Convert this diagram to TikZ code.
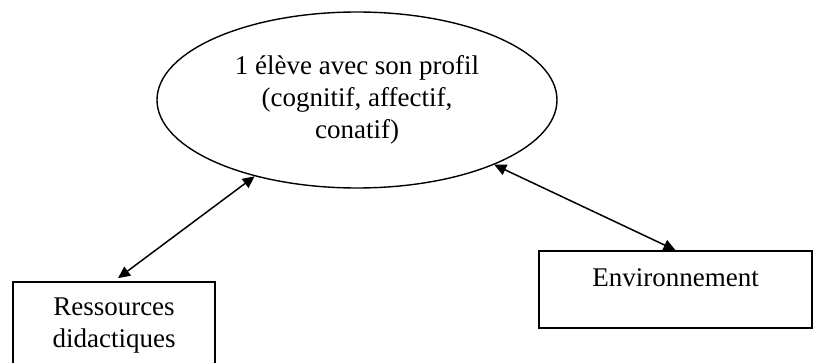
\documentclass[tikz,border=0pt]{standalone}
\usepackage{fontspec}
\setmainfont{Liberation Serif}
\usetikzlibrary{arrows.meta,shapes.geometric}

\begin{document}
\begin{tikzpicture}[x=0.5pt,y=-0.5pt,
    every node/.style={font=\fontsize{13.5}{16}\selectfont,align=center},
    cadre/.style={draw,line width=0.8pt,inner sep=0pt},
    lien/.style={{Triangle[length=6pt,width=5.5pt]}-{Triangle[length=6pt,width=5.5pt]},line width=0.75pt}]
    \useasboundingbox (0,0) rectangle (814,363);

    % l'eleve au centre
    \node[draw,ellipse,line width=0.7pt,minimum width=200pt,minimum height=88pt] (eleve) at (357,100)
        {1 élève avec son profil\\(cognitif, affectif,\\conatif)};

    % les deux cadres (celui de gauche sort de l'image en bas)
    \node[cadre,minimum width=101pt,minimum height=44pt] (ressources) at (114,326)
        {Ressources\\didactiques};
    \node[cadre,minimum width=136.5pt,minimum height=38.5pt,text height=9pt,text depth=11.5pt] (env) at (675.5,289.5)
        {Environnement};

    % liens
    \draw[lien,shorten <=2.5pt] (ressources.north) -- (eleve);
    \draw[lien] (env.north) -- (eleve);
\end{tikzpicture}
\end{document}
